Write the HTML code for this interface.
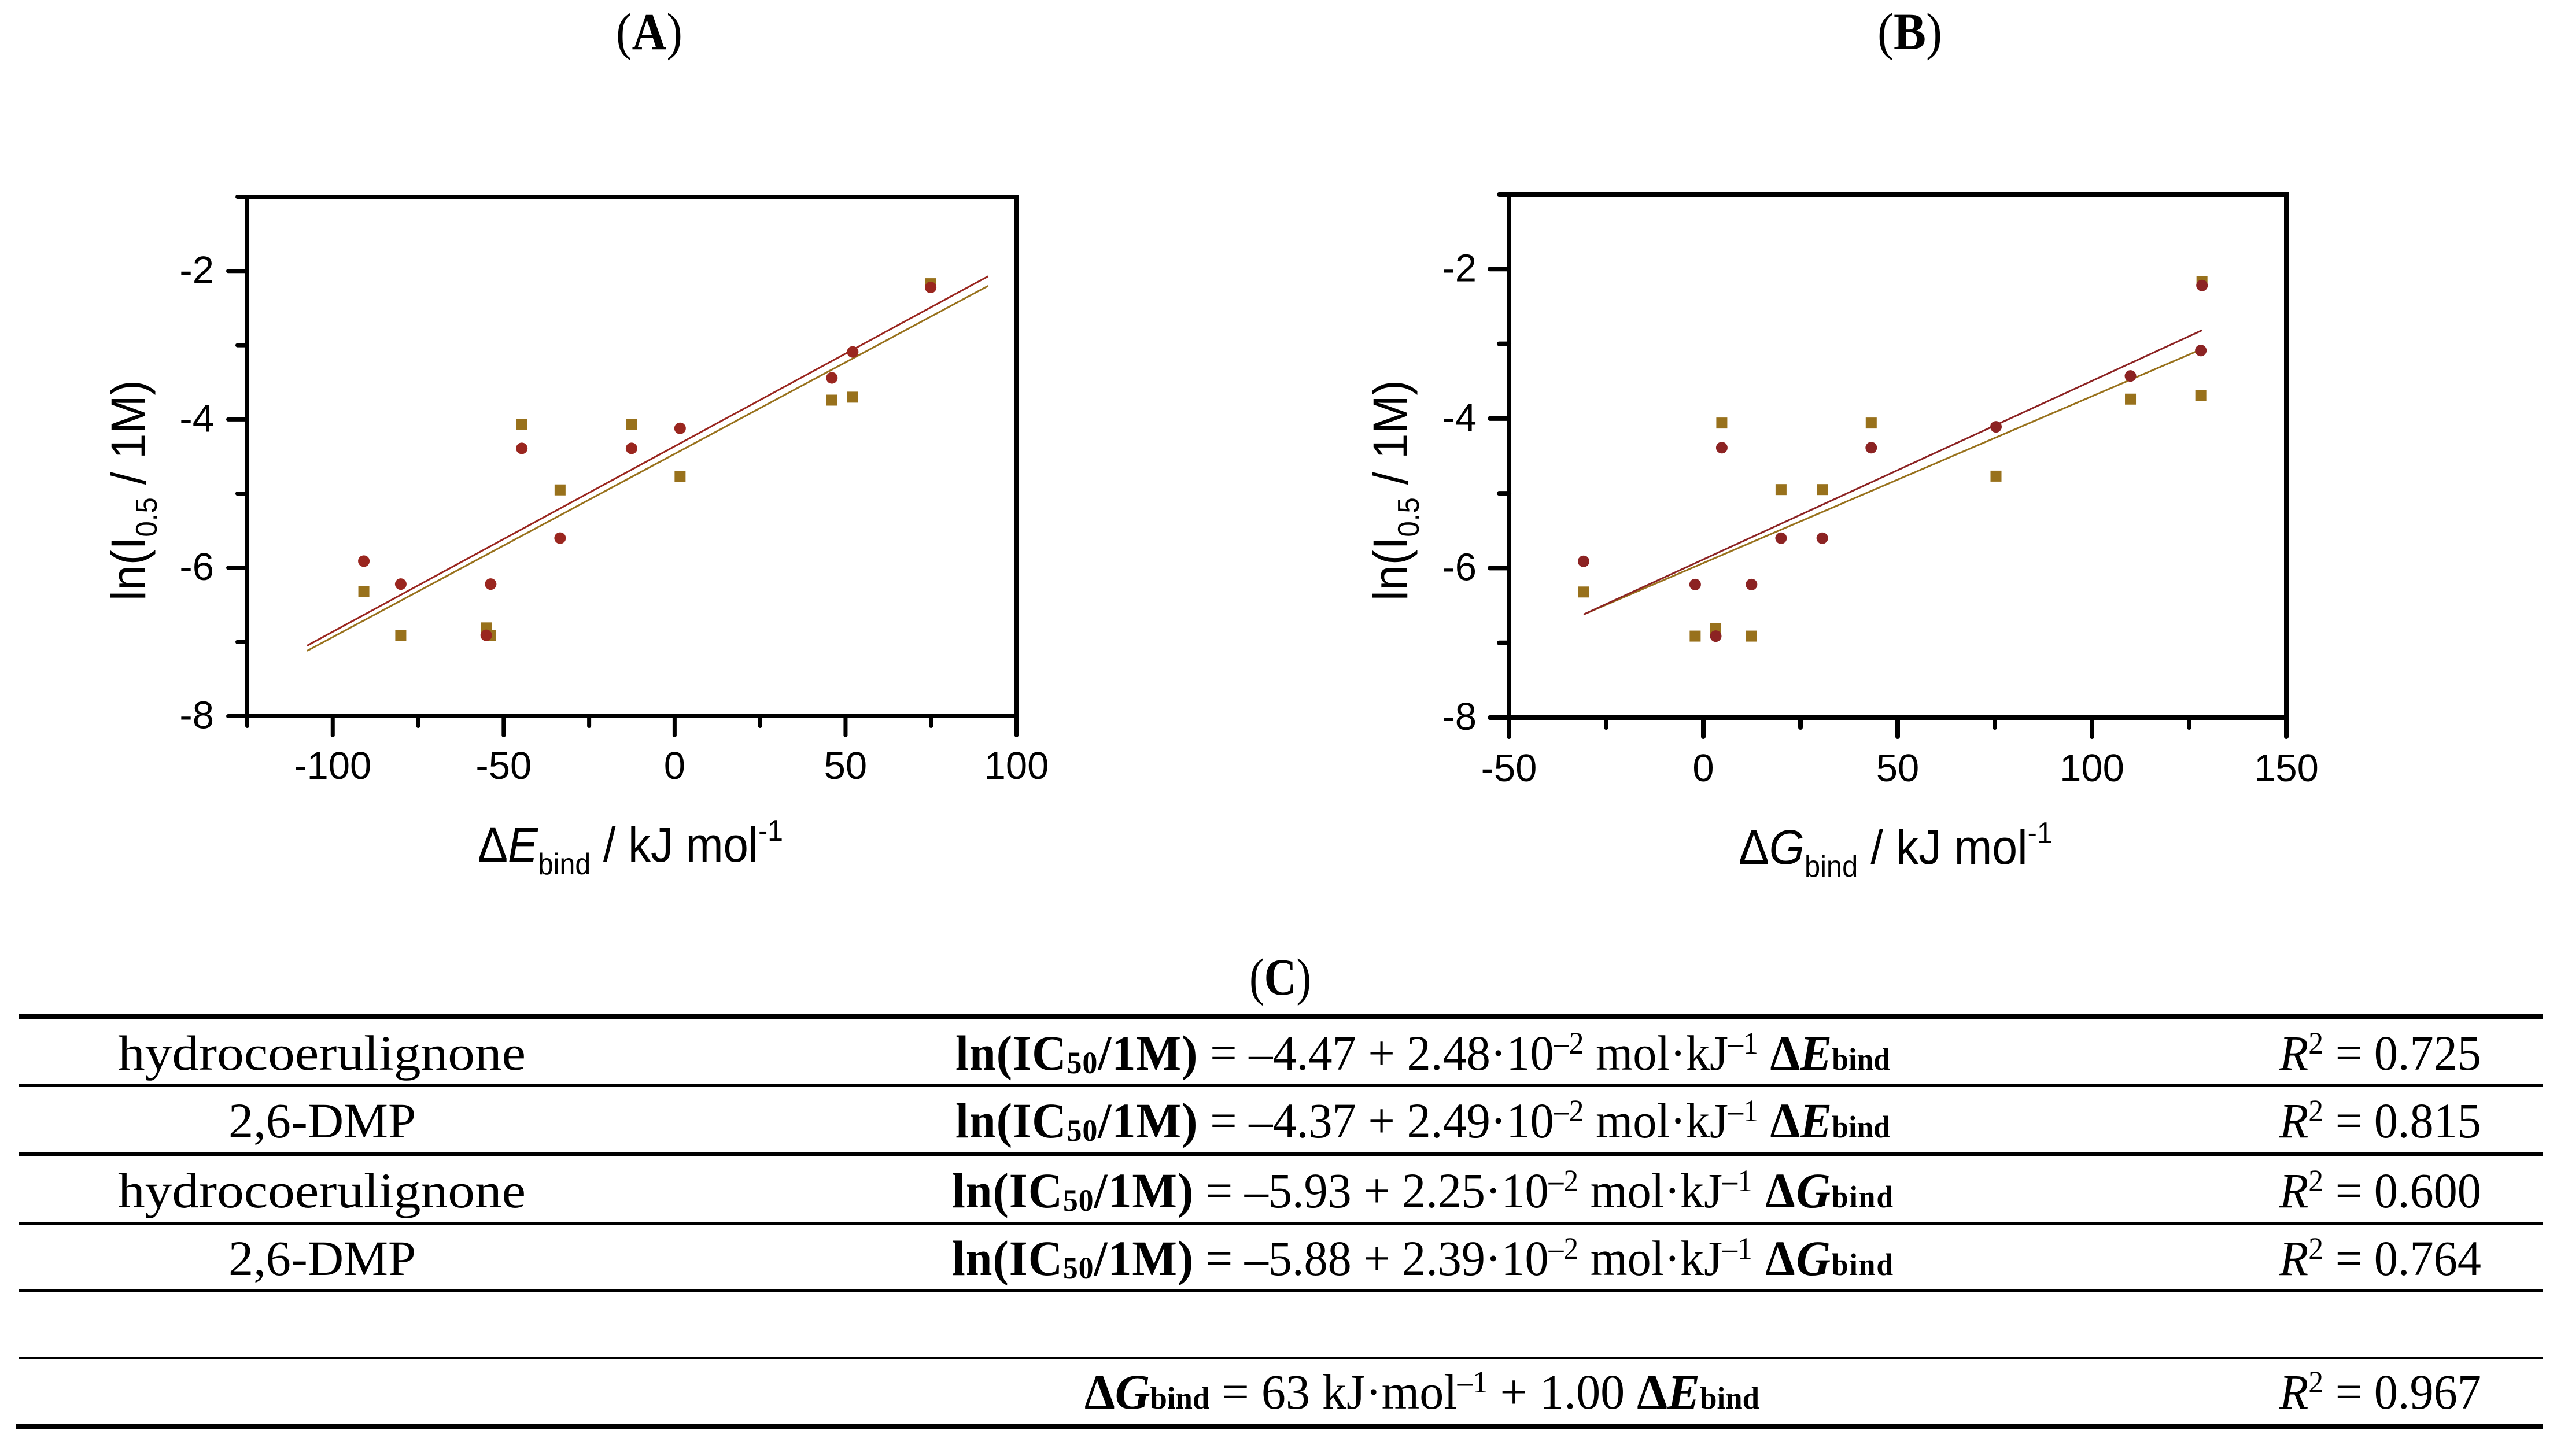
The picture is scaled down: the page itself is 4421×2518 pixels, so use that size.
<!DOCTYPE html>
<html lang="en">
<head>
<meta charset="utf-8">
<title>Correlation of inhibition with binding energies</title>
<style>
html,body{margin:0;padding:0;background:#fff;}
svg{display:block;}
.sans{font-family:"Liberation Sans",Arial,sans-serif;fill:#000;}
.serif{font-family:"Liberation Serif","Times New Roman",serif;fill:#000;font-size:86px;}
.b{font-weight:bold;}
.i{font-style:italic;}
.ls{letter-spacing:1px;}
.ls2{letter-spacing:2px;}
</style>
</head>
<body>
<svg id="figure" xmlns="http://www.w3.org/2000/svg" width="4421" height="2518" viewBox="0 0 4421 2518">
<rect width="4421" height="2518" fill="#ffffff"/>

<text class="serif" style="font-size:90px" x="1065" y="85" textLength="115" lengthAdjust="spacingAndGlyphs">(<tspan class="b">A</tspan>)</text>
<text class="serif" style="font-size:90px" x="3246" y="85" textLength="112" lengthAdjust="spacingAndGlyphs">(<tspan class="b">B</tspan>)</text>

<g id="chart-a"></g>
<g id="chart-b"></g>

<g>
<text class="serif" style="font-size:90px" x="2160" y="1720" textLength="107" lengthAdjust="spacingAndGlyphs">(<tspan class="b">C</tspan>)</text>

<rect x="32" y="1754" width="4364" height="8" fill="#000"/>
<rect x="32" y="1874" width="4364" height="5" fill="#000"/>
<rect x="32" y="1992" width="4364" height="8" fill="#000"/>
<rect x="32" y="2113" width="4364" height="5" fill="#000"/>
<rect x="32" y="2229" width="4364" height="5" fill="#000"/>
<rect x="32" y="2346" width="4364" height="5" fill="#000"/>
<rect x="27" y="2463" width="4369" height="9" fill="#000"/>

<text class="serif" x="204" y="1850" textLength="705" lengthAdjust="spacingAndGlyphs">hydrocoerulignone</text>
<text class="serif" x="1652" y="1850" textLength="1616" lengthAdjust="spacingAndGlyphs"><tspan class="b ls">ln(IC<tspan font-size="54" dy="6">50</tspan><tspan dy="-6">/1M)</tspan></tspan> = –4.47 + 2.48·10<tspan font-size="54" dy="-28">–2</tspan><tspan dy="28"> mol·kJ</tspan><tspan font-size="54" dy="-28">–1</tspan><tspan dy="28" class="b"> Δ</tspan><tspan class="b i">E</tspan><tspan class="b" font-size="54">bind</tspan></text>
<text class="serif" x="3941" y="1850" textLength="349" lengthAdjust="spacingAndGlyphs"><tspan class="i">R</tspan><tspan font-size="54" dy="-28">2</tspan><tspan dy="28"> = 0.725</tspan></text>

<text class="serif" x="395" y="1967" textLength="324" lengthAdjust="spacingAndGlyphs">2,6-DMP</text>
<text class="serif" x="1652" y="1967" textLength="1616" lengthAdjust="spacingAndGlyphs"><tspan class="b ls">ln(IC<tspan font-size="54" dy="6">50</tspan><tspan dy="-6">/1M)</tspan></tspan> = –4.37 + 2.49·10<tspan font-size="54" dy="-28">–2</tspan><tspan dy="28"> mol·kJ</tspan><tspan font-size="54" dy="-28">–1</tspan><tspan dy="28" class="b"> Δ</tspan><tspan class="b i">E</tspan><tspan class="b" font-size="54">bind</tspan></text>
<text class="serif" x="3941" y="1967" textLength="349" lengthAdjust="spacingAndGlyphs"><tspan class="i">R</tspan><tspan font-size="54" dy="-28">2</tspan><tspan dy="28"> = 0.815</tspan></text>

<text class="serif" x="204" y="2088" textLength="705" lengthAdjust="spacingAndGlyphs">hydrocoerulignone</text>
<text class="serif" x="1646" y="2088" textLength="1629" lengthAdjust="spacingAndGlyphs"><tspan class="b ls">ln(IC<tspan font-size="54" dy="6">50</tspan><tspan dy="-6">/1M)</tspan></tspan> = –5.93 + 2.25·10<tspan font-size="54" dy="-28">–2</tspan><tspan dy="28"> mol·kJ</tspan><tspan font-size="54" dy="-28">–1</tspan><tspan dy="28" class="b ls2"> Δ</tspan><tspan class="b i ls2">G</tspan><tspan class="b ls2" font-size="54">bind</tspan></text>
<text class="serif" x="3941" y="2088" textLength="349" lengthAdjust="spacingAndGlyphs"><tspan class="i">R</tspan><tspan font-size="54" dy="-28">2</tspan><tspan dy="28"> = 0.600</tspan></text>

<text class="serif" x="395" y="2205" textLength="324" lengthAdjust="spacingAndGlyphs">2,6-DMP</text>
<text class="serif" x="1646" y="2205" textLength="1629" lengthAdjust="spacingAndGlyphs"><tspan class="b ls">ln(IC<tspan font-size="54" dy="6">50</tspan><tspan dy="-6">/1M)</tspan></tspan> = –5.88 + 2.39·10<tspan font-size="54" dy="-28">–2</tspan><tspan dy="28"> mol·kJ</tspan><tspan font-size="54" dy="-28">–1</tspan><tspan dy="28" class="b ls2"> Δ</tspan><tspan class="b i ls2">G</tspan><tspan class="b ls2" font-size="54">bind</tspan></text>
<text class="serif" x="3941" y="2205" textLength="349" lengthAdjust="spacingAndGlyphs"><tspan class="i">R</tspan><tspan font-size="54" dy="-28">2</tspan><tspan dy="28"> = 0.764</tspan></text>

<text class="serif" x="1875" y="2436" textLength="1167" lengthAdjust="spacingAndGlyphs"><tspan class="b">Δ</tspan><tspan class="b i">G</tspan><tspan class="b" font-size="54">bind</tspan> = 63 kJ·mol<tspan font-size="54" dy="-28">–1</tspan><tspan dy="28"> + 1.00 </tspan><tspan class="b">Δ</tspan><tspan class="b i">E</tspan><tspan class="b" font-size="54">bind</tspan></text>
<text class="serif" x="3941" y="2436" textLength="349" lengthAdjust="spacingAndGlyphs"><tspan class="i">R</tspan><tspan font-size="54" dy="-28">2</tspan><tspan dy="28"> = 0.967</tspan></text>
</g>
</svg>

<script>
// ---- Data ----
const yMajorTicks = [-2, -4, -6, -8];
const yMinorTicks = [-1, -3, -5, -7];

const aXMajorTicks = [-100, -50, 0, 50, 100];
const aXMinorTicks = [-125, -75, -25, 25, 75];
const aEnergy = [-90.9, -80.1, -55.1, -53.8, -44.7, -33.5, -12.6, 1.6, 46.0, 52.1, 74.9];
const aDmp = [-5.91, -6.22, -6.91, -6.22, -4.39, -5.60, -4.39, -4.12, -3.44, -3.09, -2.22];
const aHydro = [-6.32, -6.81, -6.91, -6.91, -4.07, -4.95, -4.07, -4.77, -3.74, -3.70, -2.17];
const aHydroEnergy = [-90.9, -55.1, -53.8, -80.1, -44.7, -33.5, -12.6, 1.6, 46.0, 52.1, 74.9];
const aFitX = [-107.5, 91.7];
const aFitDmp = [-7.05, -2.07];
const aFitHydro = [-7.12, -2.20];

const bXMajorTicks = [-50, 0, 50, 100, 150];
const bXMinorTicks = [-25, 25, 75, 125];
const bEnergy = [-30.8, -2.1, 3.2, 12.4, 4.75, 43.2, 20.0, 30.6, 75.3, 109.9, 128.0, 128.3];
const bDmp = [-5.91, -6.22, -6.91, -6.22, -4.39, -4.39, -5.60, -5.60, -4.11, -3.43, -3.09, -2.22];
const bHydro = [-6.32, -6.91, -6.81, -6.91, -4.06, -4.06, -4.95, -4.95, -4.77, -3.74, -3.69, -2.17];
const bFitX = [-30.8, 128.3];
const bFitDmp = [-6.62, -2.82];
const bFitHydro = [-6.62, -3.07];

const SVGNS = 'http://www.w3.org/2000/svg';
const RED = '#9a261f';
const GOLD = '#98711c';

function node(tag, parent) {
  const el = document.createElementNS(SVGNS, tag);
  parent.appendChild(el);
  return el;
}
function setAll(el, props) {
  Object.keys(props).forEach(function (k) { el.setAttribute(k, props[k]); });
}
function scale(d0, d1, r0, r1) {
  return function (v) { return r0 + (v - d0) / (d1 - d0) * (r1 - r0); };
}

function drawTick(g, x1, y1, x2, y2, name, w) {
  const t = node('line', g);
  
  
  setAll(t, {x1: x1, y1: y1, x2: x2, y2: y2, stroke: '#000', 'stroke-width': w, 'stroke-linecap': 'round'});
}

function drawPanel(g, box, xDomain, xMajor, xMinor, xsRed, ysRed, xsGold, ysGold, fitX, fitRed, fitGold, red) {
  const sx = scale(xDomain[0], xDomain[1], box.left, box.right);
  const sy = scale(-1, -8, box.top, box.bottom);

  const frame = node('rect', g);
  
  
  setAll(frame, {x: box.left, y: box.top, width: box.right - box.left, height: box.bottom - box.top, fill: 'none', stroke: '#000', 'stroke-width': box.w});

  yMajorTicks.forEach(function (v) {
    drawTick(g, box.left, sy(v), box.left - 33, sy(v), 'y-major-tick', box.w);
    const label = node('text', g);
    
    
    setAll(label, {x: box.yLabelRight, y: sy(v) + 21, 'text-anchor': 'end', 'font-size': 67, class: 'sans'});
    label.textContent = String(v);
  });
  yMinorTicks.forEach(function (v) {
    drawTick(g, box.left, sy(v), box.left - 17, sy(v), 'y-minor-tick', box.w);
  });
  xMajor.forEach(function (v) {
    drawTick(g, sx(v), box.bottom, sx(v), box.bottom + 33, 'x-major-tick', box.w);
    const label = node('text', g);
    
    
    setAll(label, {x: sx(v), y: box.xLabelBase, 'text-anchor': 'middle', 'font-size': 67, class: 'sans'});
    label.textContent = String(v);
  });
  xMinor.forEach(function (v) {
    drawTick(g, sx(v), box.bottom, sx(v), box.bottom + 17, 'x-minor-tick', box.w);
  });

  [[fitGold, GOLD, 'fit-line-hydrocoerulignone'], [fitRed, red, 'fit-line-dmp']].forEach(function (s) {
    const line = node('line', g);
    
    
    setAll(line, {x1: sx(fitX[0]), y1: sy(s[0][0]), x2: sx(fitX[1]), y2: sy(s[0][1]), stroke: s[1], 'stroke-width': 3});
  });

  ysGold.forEach(function (v, i) {
    const sq = node('rect', g);
    
    
    setAll(sq, {x: sx(xsGold[i]) - 9.5, y: sy(v) - 9.5, width: 19, height: 19, fill: GOLD});
  });
  ysRed.forEach(function (v, i) {
    const c = node('ellipse', g);
    
    
    setAll(c, {cx: sx(xsRed[i]), cy: sy(v), rx: 10, ry: 10, fill: red});
  });
}

function drawLabels(g, yLabelX, yLabelY, xLabelX, xLabelY, xLen, symbol) {
  const yt = node('text', g);
  
  
  setAll(yt, {class: 'sans', 'font-size': 84, x: 0, y: 0, transform: 'translate(' + yLabelX + ' ' + yLabelY + ') rotate(-90)', textLength: 382, lengthAdjust: 'spacingAndGlyphs'});
  yt.innerHTML = 'ln(I<tspan font-size="52" dy="20">0.5</tspan><tspan dy="-20">  / 1M)</tspan>';

  const xt = node('text', g);
  
  
  setAll(xt, {class: 'sans', 'font-size': 84, x: xLabelX, y: xLabelY, textLength: xLen, lengthAdjust: 'spacingAndGlyphs'});
  xt.innerHTML = 'Δ<tspan font-style="italic">' + symbol + '</tspan><tspan font-size="52" dy="22">bind</tspan><tspan dy="-22"> / kJ mol</tspan><tspan font-size="52" dy="-36">-1</tspan>';
}

const boxA = {left: 427.5, right: 1757.5, top: 340.5, bottom: 1238.5, w: 7, yLabelRight: 370, xLabelBase: 1347};
const boxB = {left: 2609, right: 3953, top: 336, bottom: 1241, w: 8, yLabelRight: 2553, xLabelBase: 1351};

const gA = document.getElementById('chart-a');
drawPanel(gA, boxA, [-125, 100], aXMajorTicks, aXMinorTicks, aEnergy, aDmp, aHydroEnergy, aHydro, aFitX, aFitDmp, aFitHydro, RED);
drawLabels(gA, 251, 1039, 826, 1490, 528, 'E');

const gB = document.getElementById('chart-b');
drawPanel(gB, boxB, [-50, 150], bXMajorTicks, bXMinorTicks, bEnergy, bDmp, bEnergy, bHydro, bFitX, bFitDmp, bFitHydro, '#8c2323');
drawLabels(gB, 2433, 1039, 3006, 1494, 543, 'G');
</script>
</body>
</html>
